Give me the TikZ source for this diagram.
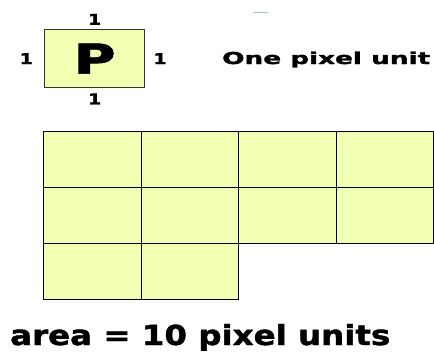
\documentclass[tikz,border=0pt]{standalone}
\usepackage{fontspec}
\setmainfont{DejaVu Sans}[BoldFeatures={FakeBold=1.5}]
\usepackage{graphicx}
\usetikzlibrary{positioning}
\definecolor{cellfill}{RGB}{240,255,178}
\definecolor{tickblue}{RGB}{170,190,220}

\begin{document}
\begin{tikzpicture}[x=1pt, y=-1pt,
  font=\bfseries,
  cell/.style={draw=black, line width=1.3pt, fill=cellfill,
    minimum width=97.5pt, minimum height=56pt, inner sep=0pt},
  side/.style={inner sep=0pt, font=\bfseries\fontsize{15}{15}\selectfont}]
\useasboundingbox (0,0) rectangle (434,351);
% one pixel unit
\node[cell, draw=black!80, minimum width=100pt, minimum height=58pt, anchor=north west]
  (unit) at (44,29) {\resizebox{42pt}{30pt}{P}};
\node[side, above=4pt of unit] (top) {\scalebox{1.25}[1]{1}};
\node[side, below=5pt of unit] (bottom) {\scalebox{1.25}[1]{1}};
\node[side, left=11pt of unit] (lft) {\scalebox{1.25}[1]{1}};
\node[side, right=8pt of unit] (rgt) {\scalebox{1.25}[1]{1}};
\node[inner sep=0pt, anchor=base west] (caption) at (222,64)
  {\resizebox{208pt}{12.5pt}{One pixel unit}};
\draw[tickblue, line width=1pt] (253,12) -- (268,12);
% ten cells
\foreach \r/\c in {0/0,0/1,0/2,0/3,1/0,1/1,1/2,1/3,2/0,2/1}
  \node[cell, anchor=north west] (cell-\r-\c) at (43+97.5*\c, 131+56*\r) {};
\node[inner sep=0pt, anchor=base west] (area) at (10,345)
  {\resizebox{380pt}{21pt}{area = 10 pixel units}};
\end{tikzpicture}
\end{document}
